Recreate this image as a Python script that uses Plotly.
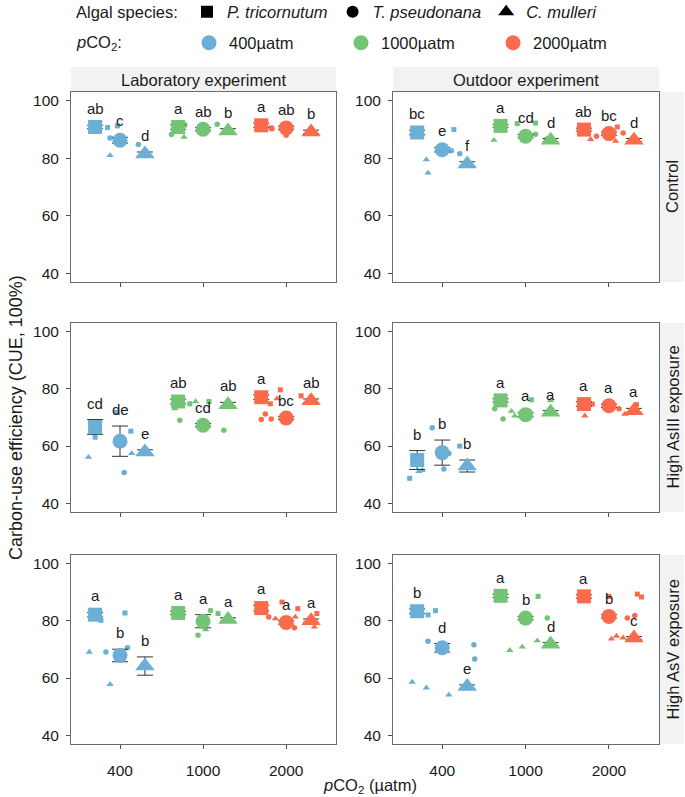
import plotly.graph_objects as go

# ---------------- data ----------------
pco2_levels = ["400", "1000", "2000"]
pco2_names = ["400µatm", "1000µatm", "2000µatm"]
species = ["P. tricornutum", "T. pseudonana", "C. mulleri"]
experiments = ["Laboratory experiment", "Outdoor experiment"]
treatments = ["Control", "High AsIII exposure", "High AsV exposure"]
y_ticks = [40, 60, 80, 100]

# values indexed [pCO2][species]
mean_lab_control = [[90.9, 86.3, 81.5], [90.9, 90.1, 89.5], [91.5, 90.6, 89.2]]
se_lab_control = [[0.6, 1.0, 0.7], [0.8, 0.6, 0.8], [0.8, 0.6, 0.6]]
letters_lab_control = [["ab", "c", "d"], ["a", "ab", "b"], ["a", "ab", "b"]]
reps_lab_control = [[[90.7, 91.3, 91.0], [87.1, 84.8, 86.2], [81.0, 81.8, 81.6]],
                    [[91.6, 90.5, 91.0], [88.3, 91.9, 90.0], [87.4, 89.5, 89.0]],
                    [[91.8, 90.6, 91.2], [90.3, 88.0, 90.8], [89.0, 89.4, 89.2]]]
jitter_lab_control = [[[-0.15, -0.03, -0.30], [-0.12, 0.22, 0.0], [-0.12, 0.30, 0.28]],
                      [[-0.22, -0.33, -0.26], [-0.38, 0.17, 0.0], [-0.23, 0.30, 0.28]],
                      [[-0.25, -0.18, -0.30], [-0.17, 0.0, 0.05], [0.30, 0.27, 0.32]]]

mean_out_control = [[89.0, 83.0, 78.0], [91.3, 87.7, 86.3], [90.0, 88.6, 86.3]]
se_out_control = [[0.8, 0.8, 0.8], [0.5, 0.6, 0.6], [0.5, 0.6, 0.6]]
letters_out_control = [["bc", "e", "f"], ["a", "cd", "d"], ["ab", "bc", "d"]]
reps_out_control = [[[90.0, 88.6, 89.2], [82.6, 81.6, 83.5], [79.5, 74.9, 78.5]],
                    [[92.1, 92.3, 91.3], [88.4, 87.0, 88.0], [86.3, 86.8, 86.0]],
                    [[90.9, 90.0, 89.5], [87.7, 88.8, 88.8], [86.6, 86.0, 86.3]]]
jitter_out_control = [[[0.14, -0.28, -0.32], [0.11, 0.21, -0.02], [-0.19, -0.17, 0.30]],
                      [[-0.10, 0.12, -0.30], [0.12, -0.03, 0.05], [-0.38, 0.25, 0.30]],
                      [[0.10, -0.30, -0.27], [-0.15, 0.17, 0.0], [-0.22, 0.08, 0.30]]]

mean_lab_as3 = [[66.7, 61.7, 57.9], [75.6, 67.3, 74.5], [77.1, 69.8, 75.9]]
se_lab_as3 = [[2.6, 5.3, 0.8], [0.8, 0.6, 0.8], [0.8, 0.5, 0.6]]
letters_lab_as3 = [["cd", "de", "e"], ["ab", "cd", "ab"], ["a", "bc", "ab"]]
reps_lab_as3 = [[[71.8, 65.2, 63.1], [50.7, 61.7, 62.5], [56.1, 57.4, 58.0]],
                [[74.8, 75.6, 75.8], [69.0, 65.5, 67.3], [73.1, 75.6, 74.5]],
                [[79.7, 74.8, 77.6], [69.3, 71.2, 69.5], [76.6, 75.9, 76.2]]]
jitter_lab_as3 = [[[-0.04, 0.13, -0.30], [0.05, 0.0, 0.02], [-0.38, 0.14, 0.30]],
                  [[-0.16, 0.07, -0.30], [-0.28, 0.25, 0.0], [-0.34, -0.09, 0.30]],
                  [[-0.07, -0.19, 0.18], [-0.30, -0.25, -0.18], [-0.11, 0.30, 0.28]]]

mean_out_as3 = [[55.1, 57.7, 53.0], [76.0, 71.0, 71.8], [74.7, 74.1, 72.4]]
se_out_as3 = [[3.3, 4.4, 2.1], [0.6, 0.8, 0.6], [0.8, 0.6, 0.8]]
letters_out_as3 = [["b", "b", "b"], ["a", "a", "a"], ["a", "a", "a"]]
reps_out_as3 = [[[48.7, 60.0, 55.5], [66.4, 57.4, 52.0], [51.1, 51.5, 53.0]],
                [[76.0, 76.2, 75.0], [73.1, 69.5, 71.0], [72.2, 70.6, 76.0]],
                [[74.7, 74.5, 75.0], [73.1, 74.1, 74.5], [70.6, 71.2, 72.4]]]
jitter_out_as3 = [[[-0.39, 0.21, -0.30], [-0.12, 0.08, 0.02], [-0.28, -0.24, 0.30]],
                  [[-0.30, 0.07, -0.28], [-0.37, -0.27, 0.0], [-0.17, -0.13, 0.30]],
                  [[-0.20, 0.33, -0.30], [0.12, 0.0, 0.02], [-0.29, 0.19, 0.30]]]

mean_lab_as5 = [[82.2, 67.9, 64.2], [82.8, 79.9, 80.5], [84.5, 79.5, 80.1]]
se_lab_as5 = [[0.8, 2.2, 3.2], [0.6, 2.3, 0.6], [1.0, 0.6, 0.6]]
letters_lab_as5 = [["a", "b", "b"], ["a", "a", "a"], ["a", "a", "a"]]
reps_lab_as5 = [[[80.2, 82.8, 82.5], [69.1, 70.6, 67.0], [69.1, 57.8, 64.0]],
                [[82.6, 83.0, 82.8], [75.0, 83.7, 80.0], [77.0, 80.5, 80.8]],
                [[86.6, 84.3, 82.6], [81.4, 77.6, 79.5], [80.8, 81.4, 77.9]]]
jitter_lab_as5 = [[[-0.23, 0.06, -0.30], [-0.17, 0.09, 0.0], [-0.37, -0.12, 0.30]],
                  [[0.18, -0.30, -0.28], [-0.06, 0.09, 0.0], [0.03, 0.30, 0.28]],
                  [[-0.05, 0.14, 0.37], [-0.21, 0.10, 0.0], [-0.13, 0.11, 0.34]]]

mean_out_as5 = [[83.4, 70.6, 57.0], [88.8, 81.0, 71.8], [88.6, 81.6, 74.0]]
se_out_as5 = [[0.8, 1.5, 0.6], [0.6, 0.6, 0.6], [0.6, 0.6, 0.5]]
letters_out_as5 = [["b", "d", "e"], ["a", "b", "d"], ["a", "b", "c"]]
reps_out_as5 = [[[82.1, 83.6, 83.4], [72.9, 71.7, 66.7], [58.6, 56.6, 54.1]],
                [[88.6, 88.8, 88.9], [81.0, 81.0, 81.2], [69.7, 70.9, 73.1]],
                [[88.6, 89.4, 88.4], [81.0, 81.9, 81.6], [73.7, 74.7, 74.1]]]
jitter_out_as5 = [[[-0.17, -0.08, -0.30], [-0.17, 0.38, 0.39], [-0.36, -0.19, 0.08]],
                  [[0.15, -0.30, -0.32], [0.26, 0.0, 0.02], [-0.19, -0.04, 0.14]],
                  [[0.0, 0.34, 0.39], [0.22, 0.31, 0.0], [0.03, 0.09, 0.17]]]

panels = [
    (mean_lab_control, se_lab_control, letters_lab_control, reps_lab_control, jitter_lab_control),
    (mean_out_control, se_out_control, letters_out_control, reps_out_control, jitter_out_control),
    (mean_lab_as3, se_lab_as3, letters_lab_as3, reps_lab_as3, jitter_lab_as3),
    (mean_out_as3, se_out_as3, letters_out_as3, reps_out_as3, jitter_out_as3),
    (mean_lab_as5, se_lab_as5, letters_lab_as5, reps_lab_as5, jitter_lab_as5),
    (mean_out_as5, se_out_as5, letters_out_as5, reps_out_as5, jitter_out_as5),
]

# ---------------- style ----------------
W, H = 685, 797
FONT = "Liberation Sans, Arial, sans-serif"
TXT = "#1a1a1a"
colors = ["#6BAED6", "#74C476", "#FB6A4A"]
symbols = ["square", "circle", "triangle-up"]
big_size = [14, 15, 17]
small_size = [5, 5.5, 6.5]
dodge = [-0.3, 0.0, 0.3]
border = "#6b6b6b"

col_x = [(71, 336), (393, 659)]
row_y = [(92, 282), (323, 512), (555, 744)]

fig = go.Figure()
annotations = []
shapes = []
layout_axes = {}

for k, (means, ses, letters, reps, jit) in enumerate(panels):
    r, c = divmod(k, 2)
    n = k + 1
    xname = "x" if n == 1 else f"x{n}"
    yname = "y" if n == 1 else f"y{n}"
    # replicates
    xs, ys, cs, ss, sz = [], [], [], [], []
    for i in range(3):
        for j in range(3):
            for v, jt in zip(reps[i][j], jit[i][j]):
                xs.append(i + 1 + jt)
                ys.append(v)
                cs.append(colors[i])
                ss.append(symbols[j])
                sz.append(small_size[j])
    fig.add_trace(go.Scatter(x=xs, y=ys, mode="markers", xaxis=xname, yaxis=yname,
                             marker=dict(color=cs, symbol=ss, size=sz, opacity=1,
                                         line=dict(width=0)),
                             showlegend=False, hoverinfo="skip"))
    # means with error bars
    xs, ys, es, cs, ss, sz = [], [], [], [], [], []
    for i in range(3):
        for j in range(3):
            xs.append(i + 1 + dodge[j])
            ys.append(means[i][j])
            es.append(ses[i][j])
            cs.append(colors[i])
            ss.append(symbols[j])
            sz.append(big_size[j])
            annotations.append(dict(x=i + 1 + dodge[j], y=means[i][j] + ses[i][j],
                                    xref=xname, yref=yname, text=letters[i][j],
                                    showarrow=False, yanchor="bottom", yshift=6,
                                    font=dict(family=FONT, size=15, color=TXT)))
    fig.add_trace(go.Scatter(x=xs, y=ys, mode="markers", xaxis=xname, yaxis=yname,
                             marker=dict(color=cs, symbol=ss, size=sz, opacity=1,
                                         line=dict(width=0)),
                             error_y=dict(type="data", array=es, visible=True,
                                          color="#333333", thickness=1, width=8),
                             showlegend=False, hoverinfo="skip"))
    x0, x1 = col_x[c]
    y0, y1 = row_y[r]
    axkey = "xaxis" if n == 1 else f"xaxis{n}"
    aykey = "yaxis" if n == 1 else f"yaxis{n}"
    layout_axes[axkey] = dict(
        domain=[x0 / W, x1 / W], anchor=yname, range=[0.41, 3.6],
        tickmode="array", tickvals=[1, 2, 3], ticktext=pco2_levels,
        showticklabels=(r == 2), ticks="outside", ticklen=4, tickcolor="#4d4d4d",
        ticklabelstandoff=8,
        showline=True, mirror=True, linecolor=border, linewidth=1,
        showgrid=False, zeroline=False,
        tickfont=dict(family=FONT, size=15.5, color=TXT))
    layout_axes[aykey] = dict(
        domain=[1 - y1 / H, 1 - y0 / H], anchor=xname, range=[36.9, 103.1],
        tickmode="array", tickvals=y_ticks, ticks="outside", ticklen=4,
        tickcolor="#4d4d4d", ticklabelstandoff=4,
        showline=True, mirror=True, linecolor=border, linewidth=1,
        showgrid=False, zeroline=False,
        tickfont=dict(family=FONT, size=15.5, color=TXT))

# strips
strip_fill = "#F2F2F2"
for c, name in enumerate(experiments):
    x0, x1 = col_x[c]
    shapes.append(dict(type="rect", xref="paper", yref="paper", x0=x0 / W, x1=x1 / W,
                       y0=1 - 92 / H, y1=1 - 67 / H, fillcolor=strip_fill,
                       line=dict(width=0), layer="below"))
    annotations.append(dict(x=(x0 + x1) / 2 / W, y=1 - 79.5 / H, xref="paper", yref="paper",
                            text=name, showarrow=False, xanchor="center", yanchor="middle",
                            font=dict(family=FONT, size=16.5, color=TXT)))
for r, name in enumerate(treatments):
    y0, y1 = row_y[r]
    shapes.append(dict(type="rect", xref="paper", yref="paper", x0=659 / W, x1=684 / W,
                       y0=1 - y1 / H, y1=1 - y0 / H, fillcolor=strip_fill,
                       line=dict(width=0), layer="below"))
    annotations.append(dict(x=672 / W, y=1 - (y0 + y1) / 2 / H, xref="paper", yref="paper",
                            text=name, showarrow=False, textangle=-90,
                            xanchor="center", yanchor="middle",
                            font=dict(family=FONT, size=16.5, color=TXT)))

# axis titles
annotations.append(dict(x=16 / W, y=1 - 418 / H, xref="paper", yref="paper",
                        text="Carbon-use efficiency (CUE, 100%)", showarrow=False,
                        textangle=-90, xanchor="center", yanchor="middle",
                        font=dict(family=FONT, size=18, color=TXT)))
annotations.append(dict(x=370 / W, y=1 - 786 / H, xref="paper", yref="paper",
                        text="<i>p</i>CO<sub>2</sub> (µatm)", showarrow=False,
                        xanchor="center", yanchor="middle",
                        font=dict(family=FONT, size=16.5, color=TXT)))

# legend titles
annotations.append(dict(x=74 / W, y=1 - 12 / H, xref="paper", yref="paper",
                        text="Algal species:", showarrow=False, xanchor="left", yanchor="middle",
                        font=dict(family=FONT, size=16.5, color=TXT)))
annotations.append(dict(x=74 / W, y=1 - 43 / H, xref="paper", yref="paper",
                        text="<i>p</i>CO<sub>2</sub>:", showarrow=False, xanchor="left",
                        yanchor="middle", font=dict(family=FONT, size=16.5, color=TXT)))

# legend entries
legend_sizes = [12, 12, 14]
for j, sp in enumerate(species):
    fig.add_trace(go.Scatter(x=[None], y=[None], mode="markers", name=f"<i>{sp}</i>",
                             marker=dict(color="black", symbol=symbols[j], size=legend_sizes[j]),
                             legend="legend", showlegend=True))
for i, nm in enumerate(pco2_names):
    fig.add_trace(go.Scatter(x=[None], y=[None], mode="markers", name=nm,
                             marker=dict(color=colors[i], symbol="circle", size=15),
                             legend="legend2", showlegend=True))

fig.update_layout(
    width=W, height=H, margin=dict(l=0, r=0, t=0, b=0, autoexpand=False),
    paper_bgcolor="white", plot_bgcolor="white",
    font=dict(family=FONT, size=15, color=TXT),
    annotations=annotations, shapes=shapes,
    legend=dict(orientation="h", x=187 / W, xanchor="left", y=1 - 12 / H, yanchor="middle",
                font=dict(family=FONT, size=16.5, color=TXT), bgcolor="rgba(0,0,0,0)",
                itemclick=False, itemdoubleclick=False),
    legend2=dict(orientation="h", x=189 / W, xanchor="left", y=1 - 43 / H, yanchor="middle",
                 entrywidth=107, font=dict(family=FONT, size=16.5, color=TXT),
                 bgcolor="rgba(0,0,0,0)", itemclick=False, itemdoubleclick=False),
    **layout_axes,
)

fig.write_html("out.html", config={"displayModeBar": False},
               post_script="document.body.style.margin='0px';document.body.style.overflow='hidden';")
